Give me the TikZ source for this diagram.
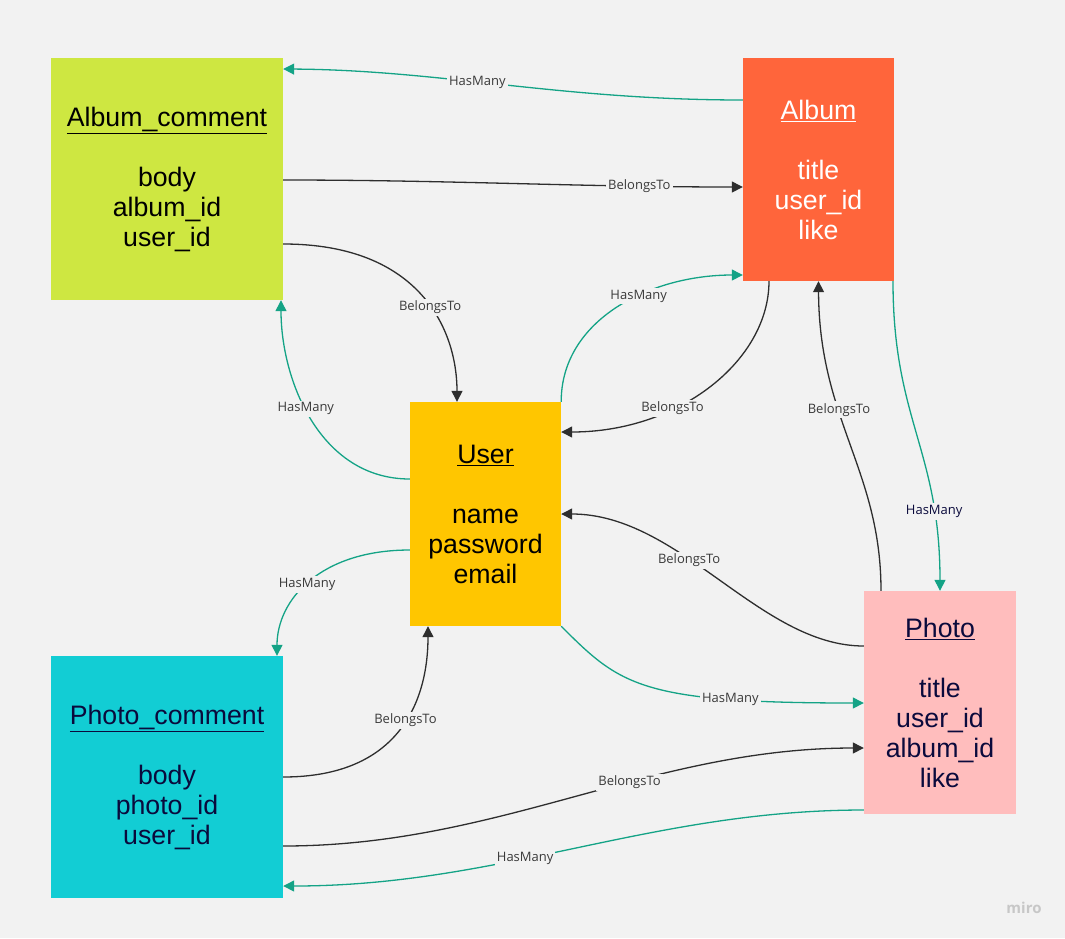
\documentclass[tikz,border=0pt]{standalone}
\usepackage{fontspec}
\usepackage{tikz}
\usetikzlibrary{arrows.meta}
\newfontfamily\entfont{Liberation Sans}
\newfontfamily\lblfont{Open Sans}
\definecolor{bg}{HTML}{F2F2F2}
\definecolor{hmc}{HTML}{14A386}
\definecolor{btc}{HTML}{2E2E2E}
\definecolor{lblc}{HTML}{3A3A3A}
\definecolor{navy}{HTML}{0A0A3C}
\definecolor{lime}{HTML}{CEE741}
\definecolor{orng}{HTML}{FF653B}
\definecolor{yell}{HTML}{FFC600}
\definecolor{cyan}{HTML}{12CDD4}
\definecolor{pink}{HTML}{FFBDBD}
\tikzstyle{ent}=[rectangle, inner sep=0pt, align=center, font=\entfont\fontsize{26.7}{30}\selectfont]
\tikzstyle{hm}=[->, draw=hmc, line width=1.3pt]
\tikzstyle{bt}=[->, draw=btc, line width=1.3pt]
\tikzstyle{lbl}=[fill=bg, inner sep=2pt, text=lblc, font=\lblfont\fontsize{13}{15}\selectfont]

\begin{document}
\begin{tikzpicture}
[x=1pt, y=-1pt, >={Triangle[length=11pt,width=11pt]}]
\fill[bg] (0,0) rectangle (1065,938);
\useasboundingbox (0,0) rectangle (1065,938);
\node[ent, fill=lime, minimum width=232pt, minimum height=242pt, text=black] (ac) at (167,179)
  {\underline{Album\_comment}\\[30pt] body\\ album\_id\\ user\_id};
\node[ent, fill=orng, minimum width=151pt, minimum height=223pt, text=white] (al) at (818.5,169.5)
  {\underline{Album}\\[30pt] title\\ user\_id\\ like};
\node[ent, fill=yell, minimum width=151pt, minimum height=224pt, text=black] (us) at (485.5,514)
  {\underline{User}\\[30pt] name\\ password\\ email};
\node[ent, fill=cyan, minimum width=232pt, minimum height=242pt, text=navy] (pc) at (167,777)
  {\underline{Photo\_comment}\\[30pt] body\\ photo\_id\\ user\_id};
\node[ent, fill=pink, minimum width=152pt, minimum height=223pt, text=navy] (ph) at (940,702.5)
  {\underline{Photo}\\[30pt] title\\ user\_id\\ album\_id\\ like};
\node[text=black!22, font=\lblfont\bfseries\fontsize{15}{17}\selectfont] (miro) at (1024,908) {miro};

\draw[hm] (al.west |- 0,100) .. controls (560,100) and (440,70) .. (ac.east |- 0,69) node[lbl,pos=0.56]{HasMany};
\draw[bt] (ac.east |- 0,180) .. controls (450,180) and (580,187) .. (al.west |- 0,187) node[lbl,pos=0.78]{BelongsTo};
\draw[bt] (ac.east |- 0,244) .. controls (420,244) and (457,330) .. (us.north -| 457,0) node[lbl,pos=0.56]{BelongsTo};
\draw[hm] (us.west |- 0,479) .. controls (320,479) and (281,380) .. (ac.south -| 281,0) node[lbl,pos=0.55]{HasMany};
\draw[hm] (us.north east) .. controls (561,320) and (650,275) .. (al.west |- 0,275) node[lbl,pos=0.6]{HasMany};
\draw[bt] (al.south -| 769,0) .. controls (769,360) and (680,432) .. (us.east |- 0,432) node[lbl,pos=0.65]{BelongsTo};
\draw[hm] (al.south -| 893,0) .. controls (893,420) and (940,450) .. (ph.north) node[lbl,pos=0.78,text=navy]{HasMany};
\draw[bt] (ph.north -| 881,0) .. controls (881,470) and (819,420) .. (al.south) node[lbl,pos=0.62]{BelongsTo};
\draw[bt] (ph.west |- 0,646) .. controls (760,646) and (680,514) .. (us.east) node[lbl,pos=0.6]{BelongsTo};
\draw[hm] (us.south east) .. controls (620,685) and (640,703) .. (ph.west |- 0,703) node[lbl,pos=0.75]{HasMany};
\draw[hm] (us.west |- 0,550) .. controls (320,550) and (277,600) .. (pc.north -| 277,0) node[lbl,pos=0.52]{HasMany};
\draw[bt] (pc.east |- 0,777) .. controls (400,777) and (428,700) .. (us.south -| 428,0) node[lbl,pos=0.55]{BelongsTo};
\draw[bt] (pc.east |- 0,846) .. controls (500,846) and (650,748) .. (ph.west |- 0,748) node[lbl,pos=0.6]{BelongsTo};
\draw[hm] (ph.west |- 0,810) .. controls (650,810) and (500,886) .. (pc.east |- 0,886) node[lbl,pos=0.59]{HasMany};
\end{tikzpicture}
\end{document}
